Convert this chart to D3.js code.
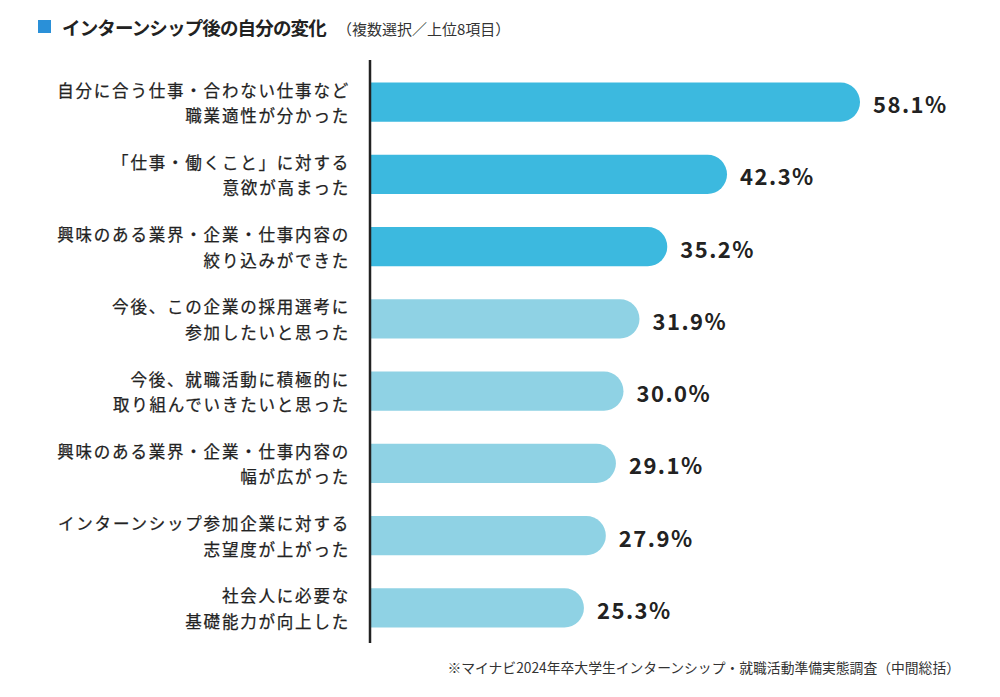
<!DOCTYPE html>
<html><head><meta charset="utf-8">
<script src="https://cdn.jsdelivr.net/npm/d3@7"></script>
<style>
body{margin:0;background:#fff;}
text{font-family:"Noto Sans CJK JP","Noto Sans",sans-serif;}
</style></head>
<body>
<svg id="chart" width="1000" height="697"></svg>
<script>
const categories = [
  ["自分に合う仕事・合わない仕事など","職業適性が分かった"],
  ["「仕事・働くこと」に対する","意欲が高まった"],
  ["興味のある業界・企業・仕事内容の","絞り込みができた"],
  ["今後、この企業の採用選考に","参加したいと思った"],
  ["今後、就職活動に積極的に","取り組んでいきたいと思った"],
  ["興味のある業界・企業・仕事内容の","幅が広がった"],
  ["インターンシップ参加企業に対する","志望度が上がった"],
  ["社会人に必要な","基礎能力が向上した"]
];
const values = [58.1, 42.3, 35.2, 31.9, 30.0, 29.1, 27.9, 25.3];
const highlight = [true, true, true, false, false, false, false, false];
const title = "インターンシップ後の自分の変化";
const subtitle = "（複数選択／上位8項目）";
const footnote = "※マイナビ2024年卒大学生インターンシップ・就職活動準備実態調査（中間総括）";

const svg = d3.select("#chart");
const x0 = 371;
const x = d3.scaleLinear().domain([0, 58.1]).range([x0, 860]);
const y = d3.scaleBand().domain(d3.range(values.length)).range([66, 644]).paddingInner(0.46).paddingOuter(0.23);

// title
svg.append("rect").attr("x",38).attr("y",20).attr("width",13).attr("height",13).attr("fill","#2a90d8");
svg.append("text").attr("x",62).attr("y",27).attr("dominant-baseline","central")
  .attr("font-size",18.5).attr("letter-spacing",-0.85).attr("font-weight","bold").attr("fill","#222").text(title);
svg.append("text").attr("x",337).attr("y",28).attr("dominant-baseline","central")
  .attr("font-size",15).attr("fill","#333").text(subtitle);

// bars: square left, rounded right
const bw = y.bandwidth();
svg.append("g").selectAll("path").data(values).join("path")
  .attr("fill", (d,i) => highlight[i] ? "#3cb9df" : "#8fd2e4")
  .attr("d", (d,i) => {
    const x1 = x(d), top = y(i), h = bw, r = h/2;
    const p = d3.path();
    p.moveTo(x0, top);
    p.lineTo(x1 - r, top);
    p.arc(x1 - r, top + r, r, -Math.PI/2, Math.PI/2);
    p.lineTo(x0, top + h);
    p.closePath();
    return p.toString();
  });

// axis line
svg.append("line").attr("x1",370).attr("x2",370).attr("y1",60).attr("y2",643)
  .attr("stroke","#222").attr("stroke-width",2.5);

// value labels
svg.append("g").selectAll("text").data(values).join("text")
  .attr("x", d => x(d) + 13).attr("y", (d,i) => y(i) + bw/2 + 1)
  .attr("dominant-baseline","central").attr("font-size",22).attr("font-weight","bold")
  .attr("letter-spacing",1.5).attr("fill","#222")
  .text(d => d.toFixed(1) + "%");

// category labels
const lab = svg.append("g").selectAll("g").data(categories).join("g");
lab.each(function(lines, i){
  const g = d3.select(this);
  lines.forEach((s, k) => {
    g.append("text").attr("x", 350).attr("y", y(i) + bw/2 + (k === 0 ? -12.5 : 13))
      .attr("text-anchor","end").attr("dominant-baseline","central")
      .attr("font-size",16.5).attr("letter-spacing",1.8).attr("fill","#222")
      .attr("stroke","#222").attr("stroke-width",0.25).text(s);
  });
});

// footnote
svg.append("text").attr("x",960).attr("y",667).attr("text-anchor","end").attr("dominant-baseline","central")
  .attr("font-size",13.8).attr("fill","#333").text(footnote);
</script>
</body></html>
